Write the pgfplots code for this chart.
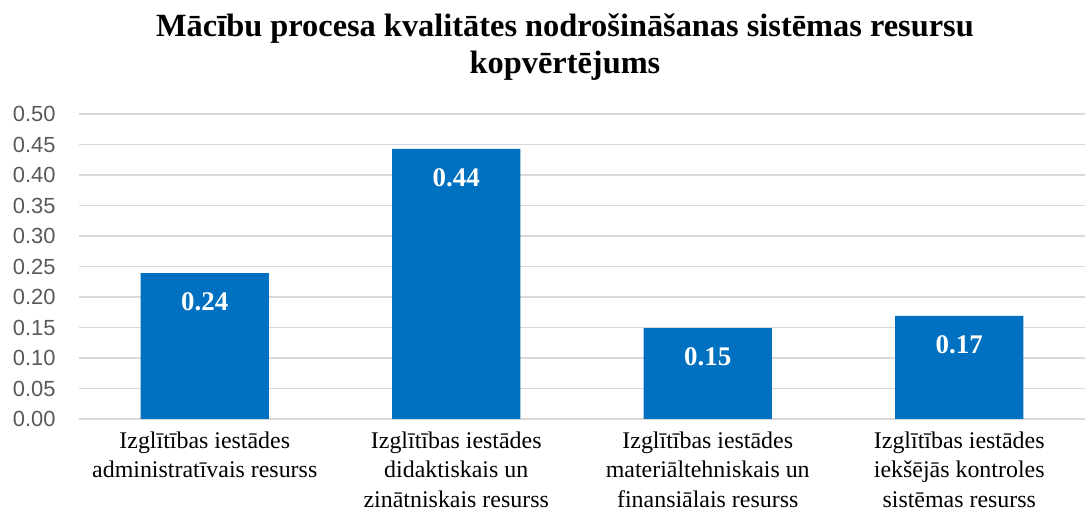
\documentclass[border=0pt]{standalone}
\usepackage{fontspec}
\setmainfont{Liberation Serif}
\setsansfont{Liberation Sans}
\usepackage{pgfplots}
\pgfplotsset{compat=1.18}
\definecolor{barblue}{HTML}{0070C0}
\definecolor{gridgray}{HTML}{D9D9D9}
\definecolor{ticktext}{HTML}{595959}

\begin{document}
\begin{tikzpicture}
\begin{axis}[
  scale only axis, width=1006bp, height=305bp,
  ymin=0, ymax=0.5,
  ytick={0,0.05,0.1,0.15,0.2,0.25,0.3,0.35,0.4,0.45,0.5},
  xmin=-0.5, xmax=3.5, xtick={0,1,2,3},
  xticklabels={{Izglītības iestādes\\administratīvais resurss},
               {Izglītības iestādes\\didaktiskais un\\zinātniskais resurss},
               {Izglītības iestādes\\materiāltehniskais un\\finansiālais resurss},
               {Izglītības iestādes\\iekšējās kontroles\\sistēmas resurss}},
  axis line style={draw=none}, major tick length=0pt,
  ymajorgrids, grid style={gridgray, line width=1.3bp},
  yticklabel style={font=\sffamily\fontsize{22}{22}\selectfont, text=ticktext, xshift=-20bp},
  xticklabel style={font=\fontsize{24}{30}\selectfont, align=center, anchor=north, yshift=-9bp},
  /pgf/number format/assume math mode=true,
  /pgf/number format/fixed, /pgf/number format/fixed zerofill, /pgf/number format/precision=2,
  nodes near coords,
  every node near coord/.append style={font=\bfseries\fontsize{27}{27}\selectfont, text=white, anchor=center, yshift=-29bp},
]
\addplot[ybar, fill=barblue, draw=none, bar width=0.51]
  coordinates {(0,0.239) (1,0.443) (2,0.149) (3,0.169)};
\end{axis}
\node[font=\bfseries\fontsize{32.5}{37}\selectfont, align=center]
  at ([xshift=-17bp,yshift=67bp]current axis.north)
  {Mācību procesa kvalitātes nodrošināšanas sistēmas resursu\\kopvērtējums};
\path ([xshift=-79bp,yshift=-91bp]current axis.south west)
  rectangle ([xshift=6bp,yshift=114bp]current axis.north east);
\end{tikzpicture}
\end{document}
